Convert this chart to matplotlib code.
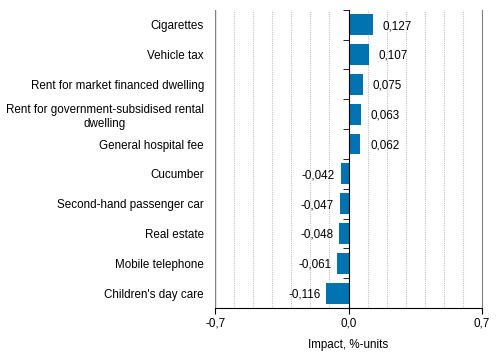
import matplotlib.pyplot as plt
import numpy as np

plt.rcParams['font.family'] = ['Liberation Sans', 'DejaVu Sans']

items = ["Cigarettes", "Vehicle tax", "Rent for market financed dwelling",
         "Rent for government-subsidised rental\ndwelling", "General hospital fee",
         "Cucumber", "Second-hand passenger car", "Real estate",
         "Mobile telephone", "Children's day care"]
impact = [0.127, 0.107, 0.075, 0.063, 0.062, -0.042, -0.047, -0.048, -0.061, -0.116]
xticks = [-0.7, 0.0, 0.7]
xticklabels = ["-0,7", "0,0", "0,7"]

fs = 8.4
W, H = 4.99, 3.52
left, right = 0.431, 0.966
fig, ax = plt.subplots(figsize=(W, H), dpi=100)
fig.subplots_adjust(left=left, right=right, top=0.972, bottom=0.125)

pos = np.arange(len(items))
ax.barh(pos, impact, height=0.7, color='#0073b0', zorder=3)

for p, v in zip(pos, impact):
    txt = ("%.3f" % v).replace(".", ",")
    if v >= 0:
        ax.annotate(txt, (v, p), xytext=(7, -1), textcoords='offset points',
                    ha='left', va='center', fontsize=fs)
    else:
        ax.annotate(txt, (v, p), xytext=(-4, -1), textcoords='offset points',
                    ha='right', va='center', fontsize=fs)

ax.set_xlim(-0.7, 0.7)
ax.set_ylim(len(items) - 0.5, -0.5)

# left spine sits on zero; labels pushed out to the plot edge
ax.spines['left'].set_position(('data', 0))
ax.spines['left'].set_zorder(4)
half_pt = 0.5 * (right - left) * W * 72
ax.set_yticks(pos)
ax.set_yticklabels(items, fontsize=fs, multialignment='center')
ax.set_yticks(np.arange(-0.5, len(items), 1.0), minor=True)
ax.tick_params(axis='y', which='major', length=0, pad=half_pt + 8)
ax.tick_params(axis='y', which='minor', length=4, direction='out')
ax.axvline(-0.7, color='#808080', linewidth=1.0, zorder=4)

ax.set_xticks(xticks)
ax.set_xticklabels(xticklabels, fontsize=fs)
ax.set_xticks(np.arange(-0.7, 0.71, 0.1), minor=True)
ax.tick_params(axis='x', which='major', length=4, direction='out', pad=3)
ax.tick_params(axis='x', which='minor', length=0)
ax.grid(axis='x', which='both', color='#c4c4c4', linestyle=(0, (1, 1)), linewidth=0.8, zorder=0)
ax.set_xlabel("Impact, %-units", fontsize=fs, labelpad=7)

ax.spines['top'].set_visible(False)
ax.spines['right'].set_color('#808080')
ax.spines['bottom'].set_color('black')

fig.savefig("out.png", dpi=100)
